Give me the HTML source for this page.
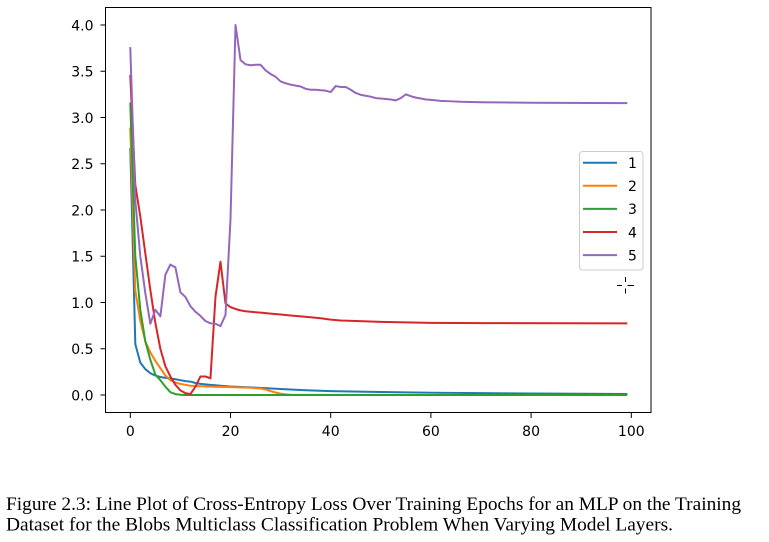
<!DOCTYPE html>
<html>
<head>
<meta charset="utf-8">
<style>
  html, body { margin: 0; padding: 0; background: #ffffff; }
  body { width: 769px; height: 542px; overflow: hidden; }
  svg { display: block; }
  .tick { font-family: "DejaVu Sans", "Liberation Sans", sans-serif; font-size: 14px; fill: #000; }
  .cap { font-family: "Liberation Serif", serif; font-size: 19px; fill: #000; }
</style>
</head>
<body>
<svg width="769" height="542" viewBox="0 0 769 542" xmlns="http://www.w3.org/2000/svg">
  <rect x="0" y="0" width="769" height="542" fill="#ffffff"/>

  <!-- data series -->
  <g transform="translate(130.3,395) scale(5.01,-92.5)" fill="none" stroke-width="2" stroke-linejoin="round" stroke-linecap="square">
    <polyline vector-effect="non-scaling-stroke" stroke="#1f77b4" points="0,2.66 1,0.55 2,0.35 3,0.28 4,0.235 5,0.21 6,0.195 7,0.185 8,0.18 9,0.17 10,0.16 11,0.15 12,0.145 13,0.13 14,0.12 15,0.115 16,0.11 17,0.105 18,0.10 20,0.092 25,0.08 30,0.065 35,0.052 40,0.042 50,0.032 60,0.025 70,0.02 80,0.016 90,0.013 99,0.011"/>
    <polyline vector-effect="non-scaling-stroke" stroke="#ff7f0e" points="0,2.88 1,1.13 2,0.80 3,0.58 4,0.46 5,0.37 6,0.29 7,0.21 8,0.16 9,0.135 10,0.12 11,0.11 12,0.10 14,0.095 16,0.09 20,0.085 24,0.078 26,0.07 27,0.06 28,0.042 29,0.027 30,0.015 31,0.007 32,0.003 34,0.001 99,0"/>
    <polyline vector-effect="non-scaling-stroke" stroke="#2ca02c" points="0,3.15 1,1.5 2,0.92 3,0.58 4,0.38 5,0.22 6,0.16 7,0.09 8,0.03 9,0.01 10,0.003 11,0 99,0"/>
    <polyline vector-effect="non-scaling-stroke" stroke="#d62728" points="0,3.45 1,2.27 2,1.93 3,1.53 4,1.135 5,0.78 6,0.50 7,0.31 8,0.20 9,0.11 10,0.05 11,0.02 12,0.01 13,0.09 14,0.20 15,0.20 16,0.18 17,1.06 18,1.44 19,0.99 20,0.95 21,0.93 22,0.915 23,0.905 24,0.90 26,0.89 28,0.88 30,0.87 32,0.86 34,0.85 36,0.84 38,0.83 40,0.815 42,0.805 45,0.80 50,0.79 55,0.785 60,0.78 70,0.777 99,0.775"/>
    <polyline vector-effect="non-scaling-stroke" stroke="#9467bd" points="0,3.75 1,2.1 2,1.5 3,1.1 4,0.77 5,0.92 6,0.85 7,1.30 8,1.41 9,1.38 10,1.11 11,1.06 12,0.96 13,0.90 14,0.855 15,0.80 16,0.775 17,0.77 18,0.745 19,0.865 20,1.9 21,4.0 22,3.62 23,3.575 24,3.565 25,3.57 26,3.57 27,3.51 28,3.47 29,3.44 30,3.39 31,3.37 32,3.355 33,3.345 34,3.335 35,3.31 36,3.30 37,3.30 38,3.295 39,3.29 40,3.275 41,3.34 42,3.33 43,3.33 44,3.30 45,3.265 46,3.245 47,3.235 48,3.225 49,3.21 50,3.205 51,3.20 52,3.195 53,3.185 54,3.21 55,3.25 56,3.23 57,3.215 58,3.205 59,3.195 60,3.19 62,3.18 64,3.175 66,3.17 70,3.165 80,3.16 99,3.155"/>
  </g>

  <!-- axes frame -->
  <rect x="105.5" y="7.5" width="545.5" height="405" fill="none" stroke="#000" stroke-width="1"/>

  <!-- y ticks -->
  <g stroke="#000" stroke-width="1">
    <line x1="100.5" y1="395" x2="105.5" y2="395"/>
    <line x1="100.5" y1="348.75" x2="105.5" y2="348.75"/>
    <line x1="100.5" y1="302.5" x2="105.5" y2="302.5"/>
    <line x1="100.5" y1="256.25" x2="105.5" y2="256.25"/>
    <line x1="100.5" y1="210" x2="105.5" y2="210"/>
    <line x1="100.5" y1="163.75" x2="105.5" y2="163.75"/>
    <line x1="100.5" y1="117.5" x2="105.5" y2="117.5"/>
    <line x1="100.5" y1="71.25" x2="105.5" y2="71.25"/>
    <line x1="100.5" y1="25" x2="105.5" y2="25"/>
  </g>
  <g class="tick" text-anchor="end">
    <text x="93.5" y="400.5">0.0</text>
    <text x="93.5" y="354.2">0.5</text>
    <text x="93.5" y="308">1.0</text>
    <text x="93.5" y="261.7">1.5</text>
    <text x="93.5" y="215.5">2.0</text>
    <text x="93.5" y="169.2">2.5</text>
    <text x="93.5" y="123">3.0</text>
    <text x="93.5" y="76.7">3.5</text>
    <text x="93.5" y="30.5">4.0</text>
  </g>

  <!-- x ticks -->
  <g stroke="#000" stroke-width="1">
    <line x1="130.3" y1="412.5" x2="130.3" y2="418"/>
    <line x1="230.5" y1="412.5" x2="230.5" y2="418"/>
    <line x1="330.7" y1="412.5" x2="330.7" y2="418"/>
    <line x1="430.9" y1="412.5" x2="430.9" y2="418"/>
    <line x1="531.1" y1="412.5" x2="531.1" y2="418"/>
    <line x1="631.3" y1="412.5" x2="631.3" y2="418"/>
  </g>
  <g class="tick" text-anchor="middle">
    <text x="130.3" y="436">0</text>
    <text x="230.5" y="436">20</text>
    <text x="330.7" y="436">40</text>
    <text x="430.9" y="436">60</text>
    <text x="531.1" y="436">80</text>
    <text x="631.3" y="436">100</text>
  </g>

  <!-- legend -->
  <rect x="579.5" y="151.5" width="63.5" height="118.5" rx="3" ry="3" fill="#ffffff" fill-opacity="0.8" stroke="#cccccc" stroke-width="1"/>
  <g stroke-width="2" stroke-linecap="square">
    <line x1="584" y1="162.7" x2="616" y2="162.7" stroke="#1f77b4"/>
    <line x1="584" y1="185.8" x2="616" y2="185.8" stroke="#ff7f0e"/>
    <line x1="584" y1="208.9" x2="616" y2="208.9" stroke="#2ca02c"/>
    <line x1="584" y1="232" x2="616" y2="232" stroke="#d62728"/>
    <line x1="584" y1="255.1" x2="616" y2="255.1" stroke="#9467bd"/>
  </g>
  <g class="tick">
    <text x="628" y="168">1</text>
    <text x="628" y="191.1">2</text>
    <text x="628" y="214.2">3</text>
    <text x="628" y="237.3">4</text>
    <text x="628" y="260.4">5</text>
  </g>

  <!-- cursor crosshair -->
  <g stroke="#000" stroke-width="1">
    <line x1="617" y1="285.5" x2="622" y2="285.5"/>
    <line x1="627.5" y1="285.5" x2="634" y2="285.5"/>
    <line x1="625.5" y1="277" x2="625.5" y2="282"/>
    <line x1="625.5" y1="288.5" x2="625.5" y2="293.5"/>
  </g>

  <!-- caption -->
  <text class="cap" x="6" y="510" textLength="735" lengthAdjust="spacingAndGlyphs">Figure 2.3: Line Plot of Cross-Entropy Loss Over Training Epochs for an MLP on the Training</text>
  <text class="cap" x="6" y="530.7" textLength="667" lengthAdjust="spacingAndGlyphs">Dataset for the Blobs Multiclass Classification Problem When Varying Model Layers.</text>
</svg>
</body>
</html>
